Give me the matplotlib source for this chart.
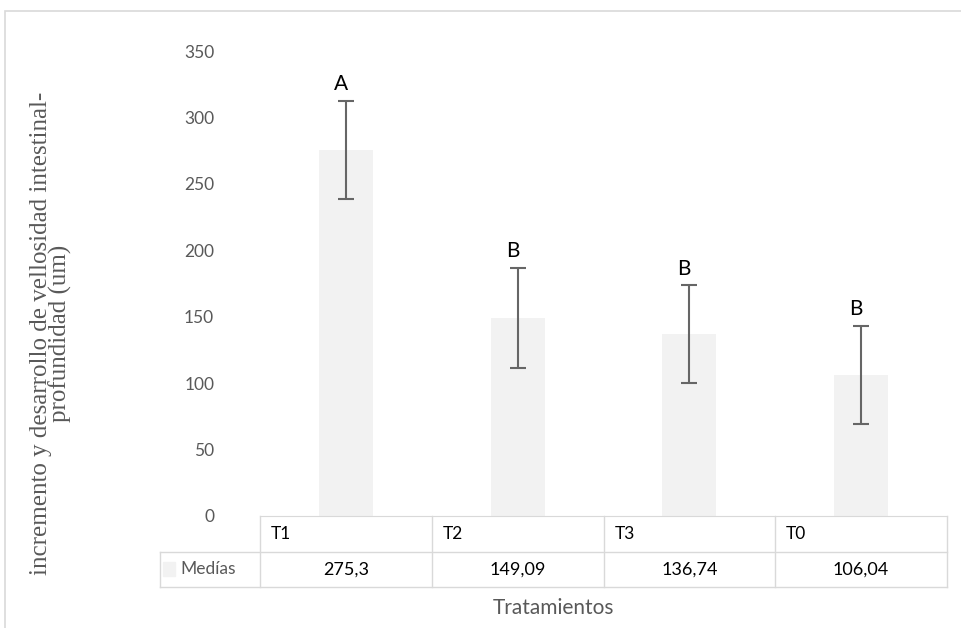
import matplotlib.pyplot as plt
from matplotlib.patches import Rectangle

categories = ['T1', 'T2', 'T3', 'T0']
medias = [275.3, 149.09, 136.74, 106.04]
errors = [37, 37.5, 37, 37]
letters = ['A', 'B', 'B', 'B']
medias_txt = ['275,3', '149,09', '136,74', '106,04']

sans = 'Lato'
grey_txt = '#595959'
line_col = '#d9d9d9'

fig = plt.figure(figsize=(9.62, 6.28), dpi=100)
ax = fig.add_axes([260/962, 1 - 516/628, 687/962, 465/628])

x = list(range(len(categories)))
ax.bar(x, medias, width=0.315, color='#f2f2f2', zorder=2)
ax.errorbar(x, medias, yerr=errors, fmt='none', ecolor='#666666',
            elinewidth=1.5, capsize=6, capthick=1.5, zorder=3)
for xi, m, e, l in zip(x, medias, errors, letters):
    ax.text(xi - 0.03, m + e + 5, l, ha='center', va='bottom',
            fontsize=15, family=sans, color='black')

ax.set_xlim(-0.5, 3.5)
ax.set_ylim(0, 350)
ax.set_yticks(range(0, 351, 50))
ax.tick_params(axis='y', length=0, labelsize=12.5, labelcolor=grey_txt, pad=33)
for lab in ax.get_yticklabels():
    lab.set_family(sans)
ax.set_xticks([])
for s in ['top', 'right', 'left']:
    ax.spines[s].set_visible(False)
ax.spines['bottom'].set_color(line_col)

fig.text(51/962, 1 - 333/628,
         'incremento y desarrollo de vellosidad intestinal-\nprofundidad (um)',
         rotation=90, ha='center', va='center', multialignment='center',
         family='Liberation Serif', fontsize=18, color=grey_txt, linespacing=0.85)

# data table under the axis
tr = ax.get_xaxis_transform()
row = 35.5 / 465
kw = dict(transform=tr, clip_on=False, color=line_col, lw=1)
x_left = -0.5 - 100/172
for b in [-0.5, 0.5, 1.5, 2.5, 3.5]:
    ax.plot([b, b], [0, -2*row], **kw)
ax.plot([x_left, x_left], [-row, -2*row], **kw)
ax.plot([x_left, 3.5], [-row, -row], **kw)
ax.plot([x_left, 3.5], [-2*row, -2*row], **kw)

for xi, c, t in zip(x, categories, medias_txt):
    ax.text(xi - 0.5 + 11/172, -row/2, c, transform=tr, ha='left', va='center',
            fontsize=12.5, family=sans, color='black')
    ax.text(xi, -1.5*row, t, transform=tr, ha='center', va='center',
            fontsize=13, family=sans, color='black')

ax.add_patch(Rectangle((x_left + 3/172, -1.5*row - 7/465), 12/172, 14/465,
                       transform=tr, clip_on=False, color='#f2f2f2'))
ax.text(x_left + 20/172, -1.5*row, 'Medías', transform=tr, ha='left', va='center',
        fontsize=12.5, family=sans, color=grey_txt)

ax.text((x_left + 3.5) / 2, -2*row - 21/465, 'Tratamientos', transform=tr,
        ha='center', va='center', fontsize=15, family=sans, color=grey_txt)

# outer chart border
fig.patches.append(Rectangle((5/962, -0.1), 1.1, 1 - 11/628 + 0.1,
                             transform=fig.transFigure, fill=False,
                             edgecolor='#d9d9d9', lw=1.2))

plt.savefig('out.png', dpi=100)
